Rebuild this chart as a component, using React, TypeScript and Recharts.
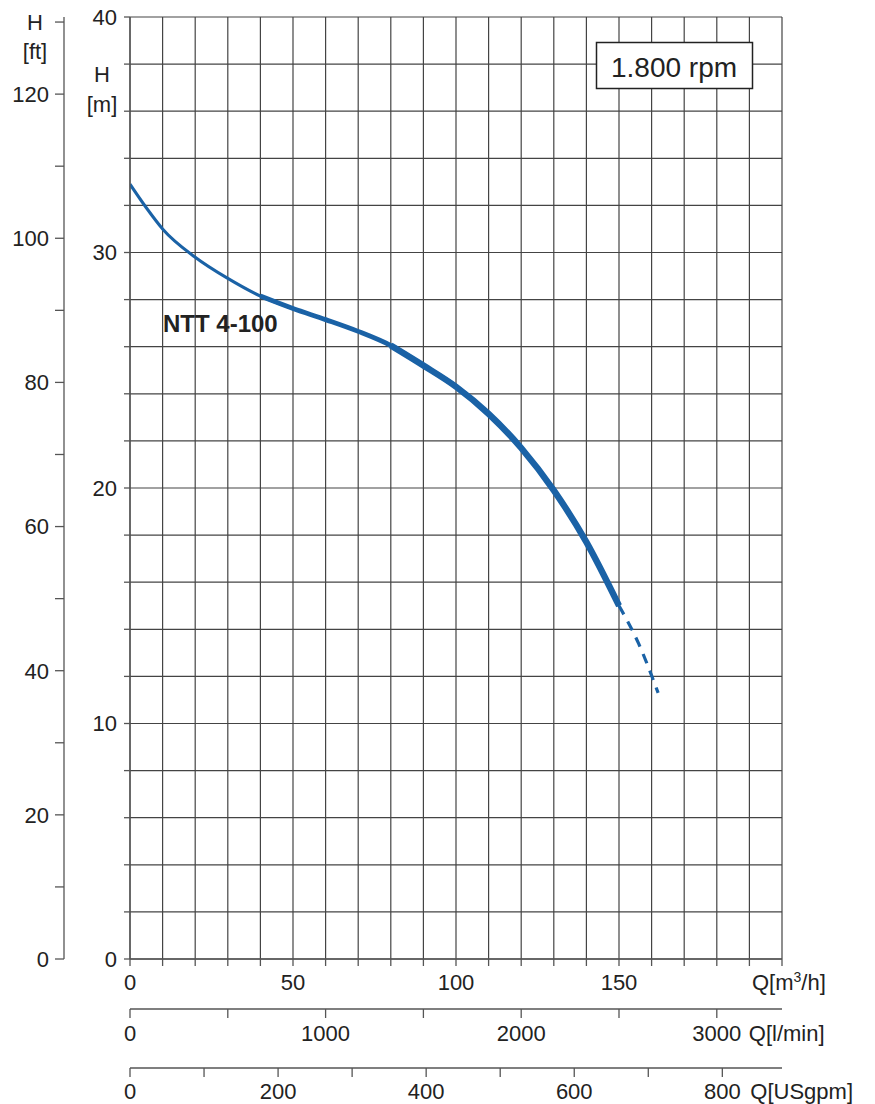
import { LineChart, Line, XAxis, YAxis, CartesianGrid } from "recharts";

// pump curve NTT 4-100 @ 1800 rpm
const flowQ = [0, 5, 10, 20, 30, 40, 50, 60, 70, 80, 90, 100, 110, 120, 130, 140, 150];
const headH = [32.9, 31.9, 31.0, 29.8, 28.9, 28.15, 27.62, 27.15, 26.65, 26.05, 25.2, 24.3, 23.15, 21.7, 19.9, 17.7, 15.0];
// dashed extension past the allowed range
const extQ = [150, 156, 162];
const extH = [15.0, 13.4, 11.3];

const qTicks = [0, 10, 20, 30, 40, 50, 60, 70, 80, 90, 100, 110, 120, 130, 140, 150, 160, 170, 180, 190, 200];
const qLabels = [0, 50, 100, 150];
const mTicks = [0, 2, 4, 6, 8, 10, 12, 14, 16, 18, 20, 22, 24, 26, 28, 30, 32, 34, 36, 38, 40];
const mLabels = [0, 10, 20, 30, 40];
const ftTicks = [0, 10, 20, 30, 40, 50, 60, 70, 80, 90, 100, 110, 120, 130];
const ftLabels = [0, 20, 40, 60, 80, 100, 120];
const lminTicks = [0, 500, 1000, 1500, 2000, 2500, 3000];
const lminLabels = [0, 1000, 2000, 3000];
const gpmTicks = [0, 100, 200, 300, 400, 500, 600, 700, 800];
const gpmLabels = [0, 200, 400, 600, 800];

const Q_MAX = 200;
const M_MAX = 40;
const FT_MAX = 130.7;
const LMIN_PER_M3H = 1000 / 60;
const GPM_PER_M3H = 4.403;

const BLUE = "#1a62a6";
const INK = "#222";
const AXIS = "#555";
const FONT = "'Liberation Sans', Arial, Helvetica, sans-serif";

const curve = flowQ.map((q, i) => ({ q, h: headH[i], lmin: q * LMIN_PER_M3H, gpm: q * GPM_PER_M3H }));
const part = (from: number, to: number) => curve.filter((d) => d.q >= from && d.q <= to);
const ext = extQ.map((q, i) => ({ q, h: extH[i] }));

function leftTick(labels: number[]) {
    return (props: any) => {
        const { x, y, payload } = props;
        if (!labels.includes(payload.value)) return <g />;
        return (
            <text x={x} y={y} dy="0.355em" textAnchor="end" fontSize={22} fill={INK} fontFamily={FONT}>
                {payload.value}
            </text>
        );
    };
}

function bottomTick(labels: number[], unit: string, unitDx: number) {
    return (props: any) => {
        const { x, y, payload } = props;
        const v = payload.value;
        const last = labels[labels.length - 1];
        return (
            <g>
                {labels.includes(v) && (
                    <text x={x} y={y} dy="0.71em" textAnchor="middle" fontSize={22} fill={INK} fontFamily={FONT}>
                        {v}
                    </text>
                )}
                {v === last && (
                    <text x={x + unitDx} y={y} dy="0.71em" textAnchor="start" fontSize={22} fill={INK} fontFamily={FONT}>
                        {unit}
                    </text>
                )}
            </g>
        );
    };
}

function qTick(props: any) {
    const { x, y, payload } = props;
    const v = payload.value;
    if (v === Q_MAX) {
        return (
            <text x={x - 30} y={y} dy="0.71em" textAnchor="start" fontSize={22} fill={INK} fontFamily={FONT}>
                Q[m<tspan dy={-8} fontSize={14}>3</tspan>
                <tspan dy={8}>/h]</tspan>
            </text>
        );
    }
    if (!qLabels.includes(v)) return <g />;
    return (
        <text x={x} y={y} dy="0.71em" textAnchor="middle" fontSize={22} fill={INK} fontFamily={FONT}>
            {v}
        </text>
    );
}

export default function App() {
    const line = { stroke: AXIS, strokeWidth: 1.3 };
    return (
        <div style={{ position: "absolute", left: 0, top: 0, width: 875, height: 1104, background: "#fff" }}>
            <LineChart width={875} height={1104} margin={{ top: 17, right: 93, bottom: 0, left: 8 }}>
                <CartesianGrid xAxisId="x1" yAxisId="y1" stroke="#444" strokeWidth={1.2} />
                {/* axis ids sort inner -> outer */}
                <XAxis
                    xAxisId="x1"
                    type="number"
                    dataKey="q"
                    domain={[0, Q_MAX]}
                    allowDataOverflow
                    ticks={qTicks}
                    interval={0}
                    height={50}
                    tickSize={7}
                    tickMargin={8}
                    axisLine={line}
                    tickLine={line}
                    tick={qTick}
                />
                <XAxis
                    xAxisId="x2"
                    type="number"
                    dataKey="lmin"
                    domain={[0, Q_MAX * LMIN_PER_M3H]}
                    allowDataOverflow
                    ticks={lminTicks}
                    interval={0}
                    height={59}
                    tickSize={9}
                    tickMargin={7}
                    axisLine={line}
                    tickLine={line}
                    tick={bottomTick(lminLabels, "Q[l/min]", 32)}
                />
                <XAxis
                    xAxisId="x3"
                    type="number"
                    dataKey="gpm"
                    domain={[0, Q_MAX * GPM_PER_M3H]}
                    allowDataOverflow
                    ticks={gpmTicks}
                    interval={0}
                    height={36}
                    tickSize={9}
                    tickMargin={6}
                    axisLine={line}
                    tickLine={line}
                    tick={bottomTick(gpmLabels, "Q[USgpm]", 28)}
                />
                <YAxis
                    yAxisId="y1"
                    type="number"
                    domain={[0, M_MAX]}
                    allowDataOverflow
                    ticks={mTicks}
                    interval={0}
                    width={66}
                    tickSize={6}
                    tickMargin={7}
                    axisLine={line}
                    tickLine={line}
                    tick={leftTick(mLabels)}
                />
                <YAxis
                    yAxisId="y2"
                    type="number"
                    domain={[0, FT_MAX]}
                    allowDataOverflow
                    ticks={ftTicks}
                    interval={0}
                    width={56}
                    tickSize={9}
                    tickMargin={6}
                    axisLine={line}
                    tickLine={line}
                    tick={leftTick(ftLabels)}
                />
                {/* invisible carriers so the unit axes get a scale */}
                <Line data={curve} dataKey="h" xAxisId="x2" yAxisId="y1" stroke="none" dot={false} activeDot={false} isAnimationActive={false} />
                <Line data={curve} dataKey="h" xAxisId="x3" yAxisId="y1" stroke="none" dot={false} activeDot={false} isAnimationActive={false} />
                <Line data={curve} dataKey="h" xAxisId="x1" yAxisId="y1" type="monotone" stroke={BLUE} strokeWidth={3} dot={false} isAnimationActive={false} />
                <Line data={part(40, 150)} dataKey="h" xAxisId="x1" yAxisId="y1" type="monotone" stroke={BLUE} strokeWidth={4.8} dot={false} isAnimationActive={false} />
                <Line data={part(80, 150)} dataKey="h" xAxisId="x1" yAxisId="y1" type="monotone" stroke={BLUE} strokeWidth={6.4} dot={false} isAnimationActive={false} />
                <Line data={ext} dataKey="h" xAxisId="x1" yAxisId="y1" type="monotone" stroke={BLUE} strokeWidth={3.2} strokeDasharray="10 8" dot={false} isAnimationActive={false} />
            </LineChart>
            <svg width={875} height={1104} style={{ position: "absolute", left: 0, top: 0, pointerEvents: "none" }} fontFamily={FONT} fill={INK}>
                <text x={35} y={30} fontSize={22} textAnchor="middle">H</text>
                <text x={35} y={59} fontSize={22} textAnchor="middle">[ft]</text>
                <text x={102} y={82} fontSize={22} textAnchor="middle">H</text>
                <text x={102} y={112} fontSize={22} textAnchor="middle">[m]</text>
                <text x={163} y={332} fontSize={24} fontWeight="bold">NTT 4-100</text>
                <rect x={596.5} y={42.5} width={156} height={46} fill="#fff" stroke={INK} strokeWidth={1.5} />
                <text x={674} y={77} fontSize={28} textAnchor="middle">1.800 rpm</text>
            </svg>
        </div>
    );
}
